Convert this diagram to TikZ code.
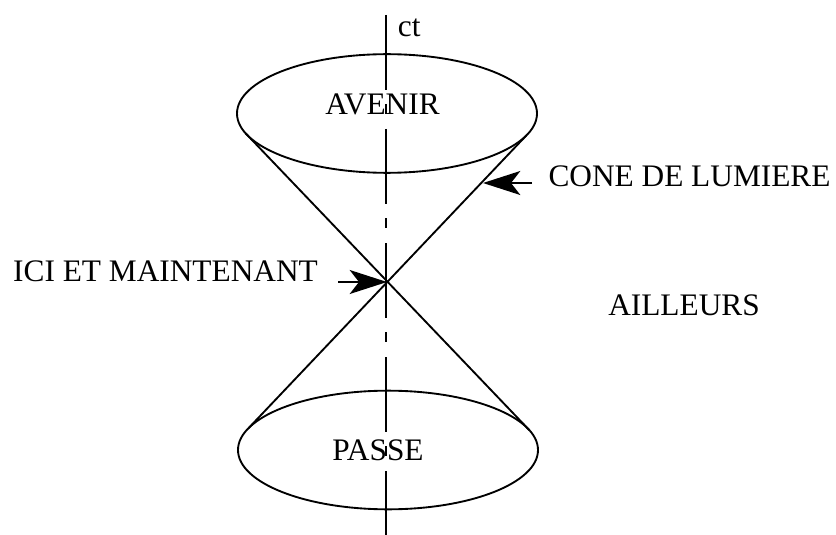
\documentclass[tikz,border=0pt]{standalone}
\usepackage{fontspec}
\setmainfont{Liberation Serif}
\usetikzlibrary{positioning,arrows.meta,shapes.geometric}

\begin{document}
\begin{tikzpicture}[x=0.75pt,y=-0.75pt,line width=1.4pt,
    >={Stealth[length=28pt,width=18pt,inset=7pt]},
    lbl/.style={inner sep=0pt,font=\fontsize{23.5}{28}\selectfont},
    nappe/.style={draw,ellipse,minimum width=225pt,minimum height=89pt,inner sep=0pt,outer sep=0pt},
    axe/.style={dash pattern=on 56.25pt off 10.5pt on 7.5pt off 11.25pt}]
    \useasboundingbox (0,0) rectangle (836,535);
    % the two sheets of the cone
    \node[nappe] (fut)  at (387,113.5) {};
    \node[nappe] (past) at (388,450) {};
    \draw (fut.188.7) -- (past.8.7);
    \draw (fut.351.3) -- (past.171.3);
    % time axis
    \coordinate (top) at (386,15);
    \coordinate (bot) at (386,535);
    \draw[axe] (top) -- (bot);
    \coordinate (now) at (387,282);
    % labels
    \node[lbl] (avenir) at (382.5,104) {AVENIR};
    \node[lbl] (passe)  at (378,450.5) {PASSE};
    \node[lbl,anchor=base west] (ct) at (397,37) {ct};
    \node[lbl] (ici)      at (165.5,271) {ICI ET MAINTENANT};
    \node[lbl] (lumiere)  at (689.5,176.5) {CONE DE LUMIERE};
    \node[lbl] (ailleurs) at (684,305.5) {AILLEURS};
    % pointers
    \coordinate (p1) at (338,282);
    \coordinate (p2) at (532,183);
    \coordinate (p3) at (483,183);
    \draw[->] (p1) -- (now);
    \draw[->] (p2) -- (p3);
\end{tikzpicture}
\end{document}
